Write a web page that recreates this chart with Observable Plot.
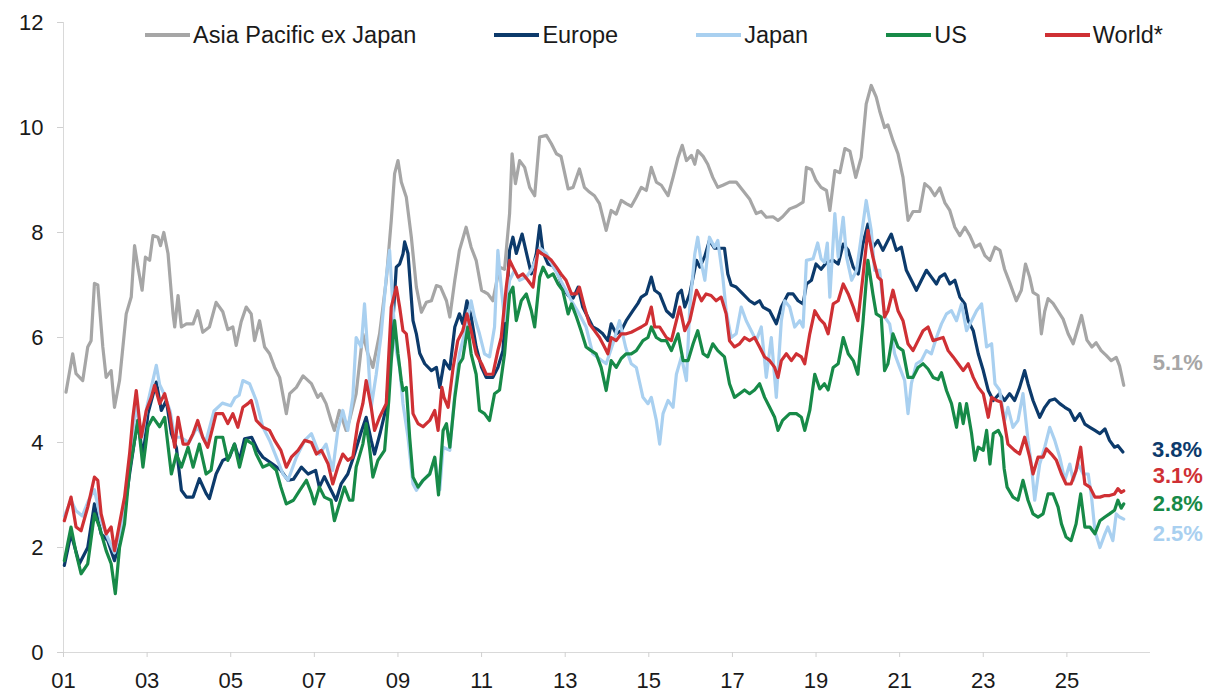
<!DOCTYPE html>
<html><head><meta charset="utf-8">
<script src="https://cdn.jsdelivr.net/npm/d3@7"></script>
<script src="https://cdn.jsdelivr.net/npm/@observablehq/plot@0.6"></script>
<style>
html,body{margin:0;padding:0;background:#fff;}
#wrap{position:relative;width:1209px;height:691px;font-family:"Liberation Sans",Arial,sans-serif;}
#legend{position:absolute;left:145px;top:22px;display:flex;gap:78px;font-size:23.5px;color:#1a1a1a;line-height:26px;white-space:nowrap;}
.item{display:flex;align-items:center;}
.sw{width:45px;height:4px;margin-right:3px;}
</style></head><body><div id="wrap"><div id="legend"></div></div>
<script>
const seriesNames = ["Asia Pacific ex Japan","Europe","Japan","US","World*"];
const xTicks = [2001,2003,2005,2007,2009,2011,2013,2015,2017,2019,2021,2023,2025];
const yTicks = [0,2,4,6,8,10,12];

const asiaPacificExJapan = [[2001.06,4.96],[2001.22,5.69],[2001.3,5.31],[2001.46,5.18],[2001.58,5.82],[2001.66,5.94],[2001.74,7.03],[2001.82,7.0],[2001.94,5.82],[2002.02,5.24],[2002.14,5.37],[2002.22,4.67],[2002.34,5.18],[2002.5,6.45],[2002.62,6.77],[2002.7,7.75],[2002.78,7.34],[2002.88,6.9],[2002.96,7.53],[2003.06,7.47],[2003.14,7.94],[2003.26,7.91],[2003.32,7.75],[2003.4,8.0],[2003.5,7.6],[2003.62,6.45],[2003.66,6.2],[2003.74,6.8],[2003.82,6.2],[2003.94,6.26],[2004.1,6.26],[2004.21,6.51],[2004.33,6.1],[2004.49,6.2],[2004.65,6.67],[2004.81,6.49],[2004.93,6.15],[2005.05,6.2],[2005.13,5.85],[2005.25,6.3],[2005.37,6.58],[2005.49,6.45],[2005.57,5.94],[2005.69,6.32],[2005.81,5.82],[2005.93,5.69],[2006.05,5.43],[2006.17,5.24],[2006.33,4.55],[2006.41,4.93],[2006.57,5.05],[2006.73,5.27],[2006.93,5.12],[2007.08,4.86],[2007.16,4.93],[2007.28,4.74],[2007.4,4.42],[2007.48,4.23],[2007.6,4.61],[2007.76,4.23],[2007.84,4.42],[2008.0,4.93],[2008.16,6.07],[2008.28,5.69],[2008.4,5.43],[2008.56,6.07],[2008.72,7.09],[2008.84,8.23],[2008.92,9.12],[2009.0,9.37],[2009.08,8.96],[2009.2,8.67],[2009.32,7.91],[2009.44,6.96],[2009.56,6.48],[2009.68,6.67],[2009.8,6.7],[2009.92,6.99],[2010.02,6.96],[2010.16,6.7],[2010.24,6.39],[2010.36,7.09],[2010.47,7.66],[2010.63,8.1],[2010.75,7.72],[2010.87,7.47],[2011.0,6.9],[2011.15,6.83],[2011.27,6.7],[2011.43,7.34],[2011.55,7.3],[2011.67,8.36],[2011.73,9.5],[2011.81,8.93],[2011.91,9.37],[2012.03,9.24],[2012.15,8.86],[2012.27,8.7],[2012.39,9.82],[2012.55,9.85],[2012.67,9.69],[2012.79,9.5],[2012.9,9.45],[2013.07,8.83],[2013.19,8.86],[2013.34,9.21],[2013.46,8.86],[2013.58,8.77],[2013.7,8.7],[2013.82,8.55],[2013.98,8.04],[2014.1,8.42],[2014.22,8.35],[2014.34,8.61],[2014.46,8.55],[2014.58,8.5],[2014.7,8.67],[2014.82,8.86],[2014.94,8.8],[2015.06,9.24],[2015.18,8.96],[2015.3,8.9],[2015.46,8.7],[2015.58,9.05],[2015.7,9.43],[2015.8,9.66],[2015.9,9.37],[2016.02,9.47],[2016.1,9.3],[2016.17,9.56],[2016.3,9.45],[2016.41,9.3],[2016.53,9.05],[2016.65,8.86],[2016.77,8.9],[2016.93,8.96],[2017.09,8.96],[2017.25,8.8],[2017.41,8.64],[2017.57,8.36],[2017.69,8.4],[2017.81,8.29],[2017.97,8.3],[2018.09,8.23],[2018.2,8.3],[2018.37,8.45],[2018.53,8.5],[2018.69,8.58],[2018.77,9.24],[2018.89,9.2],[2019.0,8.99],[2019.12,8.86],[2019.25,8.8],[2019.33,8.42],[2019.45,9.18],[2019.57,9.14],[2019.69,9.6],[2019.81,9.55],[2019.95,9.05],[2020.08,9.43],[2020.2,10.45],[2020.32,10.8],[2020.44,10.58],[2020.52,10.32],[2020.64,10.0],[2020.72,10.05],[2020.84,9.75],[2020.96,9.5],[2021.08,9.05],[2021.2,8.23],[2021.32,8.4],[2021.48,8.4],[2021.6,8.93],[2021.72,8.85],[2021.84,8.7],[2021.96,8.85],[2022.08,8.57],[2022.2,8.42],[2022.32,8.1],[2022.44,7.94],[2022.56,8.1],[2022.68,7.94],[2022.8,7.72],[2022.92,7.78],[2023.04,7.56],[2023.16,7.47],[2023.28,7.72],[2023.4,7.66],[2023.51,7.3],[2023.63,7.05],[2023.79,6.7],[2023.91,6.9],[2024.01,7.4],[2024.11,7.15],[2024.19,6.86],[2024.31,6.8],[2024.39,6.07],[2024.47,6.5],[2024.55,6.74],[2024.67,6.65],[2024.79,6.5],[2024.91,6.35],[2025.03,6.07],[2025.15,5.88],[2025.27,6.2],[2025.35,6.42],[2025.48,5.95],[2025.6,5.82],[2025.7,5.9],[2025.82,5.75],[2025.94,5.66],[2026.06,5.56],[2026.18,5.62],[2026.26,5.46],[2026.36,5.09]];

const europe = [[2001.02,1.66],[2001.18,2.26],[2001.38,1.69],[2001.58,2.0],[2001.74,2.83],[2001.9,2.26],[2002.06,2.13],[2002.22,1.75],[2002.38,2.26],[2002.58,3.4],[2002.7,4.04],[2002.78,4.42],[2002.9,3.72],[2003.02,4.55],[2003.22,5.15],[2003.34,4.61],[2003.46,4.8],[2003.58,4.17],[2003.7,3.9],[2003.82,3.09],[2003.94,2.96],[2004.1,2.96],[2004.25,3.31],[2004.41,3.03],[2004.49,2.93],[2004.65,3.4],[2004.81,3.66],[2004.97,3.72],[2005.09,3.97],[2005.21,3.66],[2005.33,4.07],[2005.5,4.1],[2005.65,3.85],[2005.77,3.72],[2006.0,3.59],[2006.2,3.47],[2006.37,3.28],[2006.5,3.3],[2006.69,3.53],[2006.85,3.4],[2007.03,3.47],[2007.12,3.15],[2007.24,3.35],[2007.4,3.09],[2007.52,2.9],[2007.64,3.21],[2007.8,3.4],[2007.96,3.78],[2008.12,4.2],[2008.24,4.48],[2008.36,4.04],[2008.44,3.78],[2008.58,4.2],[2008.72,4.67],[2008.88,6.32],[2008.96,7.34],[2009.04,7.4],[2009.12,7.59],[2009.16,7.82],[2009.24,7.6],[2009.36,6.32],[2009.44,6.07],[2009.52,5.7],[2009.64,5.5],[2009.8,5.37],[2009.92,5.43],[2010.0,5.05],[2010.11,5.56],[2010.24,5.4],[2010.36,6.2],[2010.47,6.45],[2010.55,6.26],[2010.65,6.7],[2010.75,6.4],[2010.87,5.82],[2011.0,5.43],[2011.11,5.24],[2011.27,5.24],[2011.39,5.43],[2011.51,5.75],[2011.59,6.58],[2011.67,7.66],[2011.75,7.91],[2011.83,7.6],[2011.97,7.97],[2012.07,7.62],[2012.19,7.21],[2012.31,7.6],[2012.39,8.13],[2012.47,7.62],[2012.59,7.4],[2012.71,7.36],[2012.83,7.21],[2012.94,6.96],[2013.07,6.8],[2013.19,6.75],[2013.31,6.96],[2013.42,6.58],[2013.54,6.39],[2013.66,6.2],[2013.78,6.15],[2013.9,6.07],[2014.02,5.94],[2014.1,6.26],[2014.22,6.07],[2014.34,6.13],[2014.46,6.32],[2014.62,6.51],[2014.74,6.65],[2014.82,6.77],[2014.94,6.83],[2015.06,7.15],[2015.14,6.9],[2015.26,6.83],[2015.42,6.51],[2015.58,6.39],[2015.7,6.83],[2015.78,6.9],[2015.86,6.58],[2015.98,6.83],[2016.14,7.47],[2016.22,7.34],[2016.34,7.55],[2016.45,7.85],[2016.57,7.7],[2016.69,7.7],[2016.81,7.7],[2016.89,7.21],[2016.97,7.0],[2017.09,6.96],[2017.25,6.83],[2017.41,6.7],[2017.53,6.64],[2017.65,6.7],[2017.73,6.58],[2017.89,6.51],[2018.05,6.26],[2018.17,6.58],[2018.33,6.83],[2018.45,6.83],[2018.57,6.7],[2018.69,6.64],[2018.77,7.02],[2018.89,7.09],[2019.0,7.4],[2019.12,7.3],[2019.25,7.43],[2019.41,7.47],[2019.53,7.4],[2019.65,7.78],[2019.77,7.66],[2019.89,7.34],[2020.01,7.21],[2020.12,7.78],[2020.24,8.16],[2020.36,7.72],[2020.48,7.85],[2020.6,7.66],[2020.72,7.85],[2020.8,7.97],[2020.92,7.66],[2021.04,7.72],[2021.16,7.28],[2021.28,7.09],[2021.4,6.9],[2021.52,7.09],[2021.64,7.28],[2021.76,7.15],[2021.88,7.02],[2021.96,7.15],[2022.08,7.21],[2022.2,7.02],[2022.32,7.09],[2022.44,6.77],[2022.56,6.64],[2022.64,6.32],[2022.76,6.13],[2022.88,5.69],[2023.0,5.37],[2023.12,4.99],[2023.24,4.8],[2023.39,4.93],[2023.51,4.8],[2023.63,4.93],[2023.75,4.8],[2023.87,5.05],[2023.99,5.37],[2024.07,5.12],[2024.19,4.8],[2024.35,4.48],[2024.47,4.67],[2024.59,4.8],[2024.71,4.83],[2024.83,4.74],[2024.95,4.67],[2025.07,4.61],[2025.19,4.42],[2025.31,4.55],[2025.43,4.35],[2025.55,4.29],[2025.67,4.23],[2025.79,4.17],[2025.91,4.26],[2026.02,4.04],[2026.14,3.91],[2026.22,3.94],[2026.34,3.82]];

const japan = [[2001.02,2.6],[2001.18,2.9],[2001.3,2.7],[2001.45,2.6],[2001.6,2.9],[2001.74,3.1],[2001.9,2.5],[2002.05,2.2],[2002.22,1.9],[2002.4,2.4],[2002.58,3.6],[2002.74,4.7],[2002.88,4.1],[2003.0,4.7],[2003.22,5.47],[2003.3,5.1],[2003.42,4.9],[2003.55,4.6],[2003.66,4.1],[2003.8,4.1],[2004.0,4.0],[2004.2,4.3],[2004.4,4.0],[2004.6,4.6],[2004.8,4.75],[2005.0,4.7],[2005.1,4.85],[2005.2,4.9],[2005.29,5.18],[2005.45,5.12],[2005.61,4.8],[2005.77,4.29],[2005.93,4.04],[2006.09,3.72],[2006.25,3.4],[2006.37,3.28],[2006.57,3.72],[2006.77,4.04],[2006.93,4.17],[2007.12,3.78],[2007.28,3.97],[2007.44,3.47],[2007.56,4.23],[2007.68,4.61],[2007.8,4.23],[2007.92,4.86],[2008.0,6.0],[2008.12,5.82],[2008.2,6.64],[2008.28,5.69],[2008.36,4.67],[2008.48,5.3],[2008.6,6.07],[2008.72,7.15],[2008.8,7.66],[2008.88,6.58],[2008.96,5.75],[2009.04,5.43],[2009.12,4.74],[2009.24,4.1],[2009.36,3.21],[2009.44,3.09],[2009.6,3.28],[2009.76,3.4],[2009.88,3.7],[2010.0,3.1],[2010.08,3.91],[2010.24,3.85],[2010.36,4.93],[2010.47,5.69],[2010.59,6.07],[2010.75,6.7],[2010.83,6.39],[2010.95,6.07],[2011.07,5.69],[2011.19,5.63],[2011.31,6.2],[2011.39,7.66],[2011.47,6.96],[2011.55,6.32],[2011.67,7.09],[2011.79,7.28],[2011.91,7.09],[2012.07,7.15],[2012.2,7.3],[2012.4,7.7],[2012.55,7.6],[2012.75,7.3],[2012.95,7.0],[2013.15,6.7],[2013.3,6.5],[2013.5,6.2],[2013.66,5.69],[2013.98,5.5],[2014.15,5.9],[2014.3,6.32],[2014.45,5.8],[2014.58,5.5],[2014.7,5.43],[2014.86,4.86],[2014.98,4.74],[2015.06,4.86],[2015.18,4.42],[2015.26,3.97],[2015.34,4.55],[2015.46,4.8],[2015.58,4.67],[2015.66,5.3],[2015.78,5.63],[2015.9,5.18],[2015.98,6.58],[2016.1,7.59],[2016.17,7.91],[2016.26,7.4],[2016.34,7.09],[2016.45,7.91],[2016.57,7.72],[2016.65,7.85],[2016.77,7.15],[2016.85,6.51],[2016.97,6.0],[2017.09,6.07],[2017.21,6.58],[2017.33,6.32],[2017.45,6.13],[2017.57,5.94],[2017.69,6.2],[2017.81,5.24],[2017.93,6.0],[2018.05,4.86],[2018.17,6.32],[2018.25,6.7],[2018.37,6.58],[2018.49,6.2],[2018.61,6.32],[2018.69,6.2],[2018.77,7.47],[2018.93,7.5],[2019.04,7.8],[2019.12,7.5],[2019.2,7.43],[2019.27,7.8],[2019.33,6.77],[2019.45,8.36],[2019.53,7.53],[2019.65,8.29],[2019.73,7.53],[2019.85,7.09],[2019.97,7.28],[2020.08,7.91],[2020.2,8.61],[2020.32,8.04],[2020.4,7.28],[2020.52,7.28],[2020.64,6.39],[2020.76,6.26],[2020.88,5.69],[2021.0,5.43],[2021.12,5.18],[2021.2,4.55],[2021.28,5.12],[2021.4,5.5],[2021.52,5.56],[2021.64,5.75],[2021.76,5.69],[2021.88,6.0],[2022.0,6.26],[2022.12,6.45],[2022.24,6.51],[2022.36,6.32],[2022.48,6.64],[2022.6,6.13],[2022.72,6.32],[2022.84,6.51],[2022.96,6.64],[2023.08,5.82],[2023.2,5.88],[2023.28,5.12],[2023.39,5.0],[2023.51,4.42],[2023.59,4.67],[2023.71,4.29],[2023.83,4.42],[2023.95,4.93],[2024.07,4.04],[2024.15,3.59],[2024.23,2.9],[2024.35,3.59],[2024.47,3.91],[2024.59,4.29],[2024.71,4.04],[2024.83,3.72],[2024.95,3.28],[2025.07,3.59],[2025.15,3.28],[2025.27,3.59],[2025.39,3.4],[2025.51,3.4],[2025.59,2.96],[2025.67,2.32],[2025.79,2.0],[2025.91,2.26],[2025.98,2.39],[2026.1,2.13],[2026.18,2.64],[2026.26,2.58],[2026.36,2.54]];

const us = [[2001.02,1.75],[2001.18,2.39],[2001.3,1.9],[2001.42,1.5],[2001.58,1.69],[2001.74,2.64],[2001.86,2.39],[2002.02,1.94],[2002.14,1.69],[2002.24,1.12],[2002.34,2.0],[2002.46,2.45],[2002.58,3.47],[2002.7,4.04],[2002.78,4.42],[2002.9,3.53],[2003.02,4.3],[2003.14,4.48],[2003.3,4.3],[2003.42,4.48],[2003.58,3.4],[2003.7,3.78],[2003.82,3.53],[2003.98,3.91],[2004.1,3.53],[2004.25,3.97],[2004.41,3.4],[2004.53,3.47],[2004.65,4.1],[2004.81,4.1],[2004.93,3.66],[2005.09,3.97],[2005.21,3.53],[2005.37,4.05],[2005.53,3.97],[2005.61,3.78],[2005.77,3.53],[2005.93,3.59],[2006.09,3.47],[2006.2,3.15],[2006.33,2.83],[2006.5,2.9],[2006.65,3.09],[2006.81,3.28],[2006.93,3.03],[2007.0,2.83],[2007.12,3.15],[2007.24,2.96],[2007.4,2.9],[2007.48,2.51],[2007.6,2.83],[2007.72,3.15],[2007.84,2.9],[2007.92,2.9],[2008.0,3.53],[2008.16,3.97],[2008.24,4.36],[2008.32,3.9],[2008.4,3.34],[2008.52,3.66],[2008.68,3.85],[2008.78,4.8],[2008.84,5.56],[2008.92,6.32],[2009.0,5.69],[2009.08,5.18],[2009.12,4.99],[2009.2,5.05],[2009.28,4.1],[2009.36,3.34],[2009.48,3.15],[2009.6,3.28],[2009.76,3.4],[2009.88,3.72],[2009.97,3.0],[2010.08,4.23],[2010.16,4.36],[2010.24,3.91],[2010.36,4.86],[2010.47,5.5],[2010.55,5.6],[2010.67,6.2],[2010.75,5.69],[2010.87,5.3],[2010.95,4.61],[2011.07,4.55],[2011.19,4.42],[2011.31,4.93],[2011.43,5.0],[2011.55,5.69],[2011.67,6.83],[2011.75,6.96],[2011.83,6.32],[2011.95,6.7],[2012.07,6.83],[2012.19,6.51],[2012.27,6.2],[2012.39,7.15],[2012.47,7.34],[2012.59,7.15],[2012.71,7.21],[2012.83,7.02],[2012.94,6.9],[2013.07,6.45],[2013.15,6.64],[2013.27,6.39],[2013.38,6.13],[2013.5,5.82],[2013.62,5.75],[2013.74,5.69],[2013.86,5.43],[2013.98,4.99],[2014.1,5.56],[2014.22,5.43],[2014.34,5.6],[2014.46,5.69],[2014.58,5.69],[2014.7,5.75],[2014.86,5.94],[2014.98,6.0],[2015.06,6.2],[2015.18,6.0],[2015.3,5.94],[2015.42,5.94],[2015.54,5.75],[2015.7,6.07],[2015.82,5.56],[2015.94,5.56],[2016.06,5.88],[2016.17,6.13],[2016.3,5.69],[2016.41,5.63],[2016.53,5.88],[2016.65,5.75],[2016.81,5.63],[2016.93,5.12],[2017.05,4.86],[2017.17,4.93],[2017.29,5.0],[2017.41,4.93],[2017.53,5.0],[2017.65,5.12],[2017.77,4.86],[2017.89,4.67],[2018.01,4.48],[2018.09,4.23],[2018.2,4.42],[2018.37,4.55],[2018.53,4.55],[2018.65,4.48],[2018.73,4.23],[2018.85,4.61],[2018.97,5.3],[2019.09,5.02],[2019.2,5.12],[2019.29,5.0],[2019.41,5.43],[2019.53,5.5],[2019.65,6.0],[2019.77,5.69],[2019.89,5.56],[2020.0,5.3],[2020.12,6.26],[2020.24,7.47],[2020.36,6.83],[2020.44,6.45],[2020.56,6.39],[2020.64,5.37],[2020.72,5.5],[2020.84,6.07],[2020.96,5.82],[2021.08,5.75],[2021.2,5.24],[2021.32,5.24],[2021.44,5.43],[2021.56,5.5],[2021.68,5.4],[2021.8,5.24],[2021.92,5.2],[2022.0,5.33],[2022.12,4.99],[2022.24,4.74],[2022.36,4.29],[2022.44,4.74],[2022.52,4.36],[2022.6,4.74],[2022.72,4.17],[2022.8,3.66],[2022.88,3.91],[2023.0,3.85],[2023.08,4.23],[2023.16,3.59],[2023.24,4.17],[2023.36,4.23],[2023.44,4.1],[2023.5,3.5],[2023.57,3.15],[2023.71,2.96],[2023.83,2.9],[2023.95,3.28],[2024.07,2.9],[2024.19,2.64],[2024.31,2.58],[2024.43,2.64],[2024.55,3.02],[2024.67,3.02],[2024.79,2.77],[2024.87,2.45],[2024.98,2.2],[2025.1,2.13],[2025.22,2.45],[2025.33,3.02],[2025.43,2.39],[2025.55,2.39],[2025.67,2.26],[2025.79,2.51],[2025.91,2.58],[2026.02,2.64],[2026.14,2.71],[2026.22,2.9],[2026.3,2.75],[2026.36,2.83]];

const world = [[2001.02,2.51],[2001.18,2.96],[2001.3,2.39],[2001.42,2.32],[2001.58,2.77],[2001.74,3.34],[2001.82,3.28],[2001.9,2.64],[2002.02,2.26],[2002.14,2.39],[2002.22,1.94],[2002.34,2.45],[2002.46,2.96],[2002.58,3.78],[2002.66,4.48],[2002.74,4.99],[2002.86,4.1],[2002.98,4.61],[2003.1,4.86],[2003.18,5.09],[2003.3,4.74],[2003.42,4.93],[2003.54,4.55],[2003.66,3.91],[2003.74,4.48],[2003.86,3.97],[2003.98,3.97],[2004.1,4.17],[2004.21,4.42],[2004.33,4.1],[2004.45,3.91],[2004.57,4.29],[2004.65,4.55],[2004.81,4.55],[2004.93,4.36],[2005.05,4.55],[2005.17,4.29],[2005.29,4.67],[2005.41,4.74],[2005.49,4.8],[2005.61,4.42],[2005.77,4.29],[2005.93,4.23],[2006.05,4.04],[2006.2,3.85],[2006.33,3.53],[2006.45,3.72],[2006.61,3.85],[2006.77,4.04],[2006.93,4.0],[2007.05,3.78],[2007.17,3.85],[2007.33,3.59],[2007.44,3.21],[2007.56,3.53],[2007.68,3.78],[2007.8,3.66],[2007.92,3.72],[2008.04,4.36],[2008.16,4.74],[2008.24,5.18],[2008.36,4.67],[2008.44,4.23],[2008.56,4.48],[2008.72,4.74],[2008.84,6.58],[2008.96,6.96],[2009.04,6.58],[2009.12,6.13],[2009.2,6.07],[2009.28,5.56],[2009.36,4.55],[2009.48,4.36],[2009.6,4.3],[2009.76,4.42],[2009.88,4.61],[2009.96,4.23],[2010.05,5.05],[2010.1,4.86],[2010.2,4.67],[2010.32,5.43],[2010.43,5.94],[2010.55,6.13],[2010.65,6.45],[2010.75,6.13],[2010.87,5.69],[2011.0,5.5],[2011.11,5.3],[2011.27,5.3],[2011.39,5.75],[2011.47,6.0],[2011.59,6.96],[2011.67,7.47],[2011.75,7.34],[2011.87,7.15],[2011.99,7.21],[2012.11,7.09],[2012.23,6.96],[2012.35,7.66],[2012.43,7.6],[2012.55,7.55],[2012.67,7.47],[2012.79,7.34],[2012.9,7.21],[2013.02,7.09],[2013.15,6.83],[2013.27,6.83],[2013.34,6.96],[2013.46,6.58],[2013.58,6.26],[2013.7,6.13],[2013.82,6.0],[2013.94,5.82],[2014.02,5.69],[2014.1,6.0],[2014.22,5.94],[2014.34,6.07],[2014.46,6.07],[2014.58,6.1],[2014.7,6.15],[2014.82,6.2],[2014.94,6.26],[2015.06,6.58],[2015.14,6.2],[2015.26,6.2],[2015.42,6.0],[2015.54,5.94],[2015.66,6.32],[2015.74,6.58],[2015.86,6.13],[2015.98,6.32],[2016.14,6.9],[2016.26,6.7],[2016.37,6.83],[2016.49,6.8],[2016.61,6.7],[2016.73,6.77],[2016.85,6.45],[2016.93,5.94],[2017.05,5.82],[2017.17,5.88],[2017.29,6.0],[2017.41,5.94],[2017.53,6.0],[2017.65,5.82],[2017.77,5.63],[2017.89,5.56],[2018.01,5.43],[2018.09,5.24],[2018.17,5.56],[2018.29,5.69],[2018.41,5.56],[2018.53,5.69],[2018.65,5.63],[2018.73,5.5],[2018.85,6.07],[2018.97,6.51],[2019.09,6.35],[2019.2,6.26],[2019.29,6.07],[2019.41,6.64],[2019.53,6.7],[2019.65,7.02],[2019.77,6.83],[2019.89,6.58],[2020.0,6.32],[2020.12,7.15],[2020.24,8.04],[2020.36,7.53],[2020.48,7.15],[2020.56,7.09],[2020.64,6.39],[2020.72,6.51],[2020.84,6.9],[2020.96,6.51],[2021.08,6.32],[2021.2,5.88],[2021.32,5.75],[2021.44,5.94],[2021.56,6.13],[2021.68,6.2],[2021.8,5.94],[2021.92,5.97],[2022.04,6.0],[2022.16,5.75],[2022.28,5.63],[2022.4,5.5],[2022.52,5.37],[2022.64,5.5],[2022.76,5.24],[2022.88,5.05],[2023.0,4.93],[2023.12,4.48],[2023.2,4.86],[2023.32,4.8],[2023.42,4.77],[2023.5,4.4],[2023.59,3.97],[2023.75,3.85],[2023.87,3.78],[2023.99,4.1],[2024.11,3.72],[2024.19,3.4],[2024.31,3.72],[2024.43,3.72],[2024.51,3.88],[2024.63,3.78],[2024.75,3.66],[2024.87,3.4],[2024.98,3.21],[2025.1,3.21],[2025.22,3.47],[2025.33,3.91],[2025.43,3.21],[2025.55,3.15],[2025.67,2.96],[2025.79,2.96],[2025.91,2.99],[2026.02,2.99],[2026.14,3.02],[2026.22,3.12],[2026.3,3.05],[2026.36,3.08]];

// presentation config
const seriesData = [asiaPacificExJapan, europe, japan, us, world];
const colors = ["#a6a6a6", "#0c3a6b", "#a9d0f0", "#178a48", "#cf3034"];
const labelDy = [-22, -2, 15, 0, -15];
const FONT = '"Liberation Sans", Arial, sans-serif';

// legend (HTML)
const legend = document.getElementById("legend");
seriesNames.forEach((name, i) => {
  const it = document.createElement("div"); it.className = "item";
  const sw = document.createElement("div"); sw.className = "sw"; sw.style.background = colors[i];
  const tx = document.createElement("span"); tx.textContent = name;
  it.appendChild(sw); it.appendChild(tx); legend.appendChild(it);
});

const marks = [
  Plot.ruleY([0], {stroke: "#d9d9d9", strokeWidth: 1}),
  Plot.ruleX([2001], {stroke: "#d9d9d9", strokeWidth: 1}),
  Plot.axisY({ticks: yTicks, tickSize: 6, tickPadding: 14, stroke: "#d0d0d0", fill: "#1a1a1a", fontSize: 22, label: null}),
  Plot.axisX({ticks: xTicks, tickFormat: d => String(d % 100).padStart(2, "0"), tickSize: 5, tickPadding: 15, stroke: "#d0d0d0", fill: "#1a1a1a", fontSize: 22, label: null})
];
seriesData.forEach((s, i) => {
  marks.push(Plot.line(s, {x: d => d[0], y: d => d[1], stroke: colors[i], strokeWidth: 3.2, strokeLinejoin: "round", strokeLinecap: "round"}));
});
seriesData.forEach((s, i) => {
  const last = s[s.length - 1];
  marks.push(Plot.text([last], {x: d => d[0], y: d => d[1], text: d => d[1].toFixed(1) + "%", fill: colors[i], dx: 29, dy: labelDy[i], textAnchor: "start", fontSize: 22, fontWeight: "bold"}));
});

const chart = Plot.plot({
  width: 1209,
  height: 691,
  marginLeft: 63,
  marginRight: 59,
  marginTop: 22,
  marginBottom: 39,
  x: {type: "linear", domain: [2001, 2027]},
  y: {domain: [0, 12]},
  style: {fontFamily: FONT, fontSize: "22px", background: "#fff", color: "#1a1a1a", overflow: "visible"},
  marks
});
document.getElementById("wrap").insertBefore(chart, legend);
</script>
</body></html>
